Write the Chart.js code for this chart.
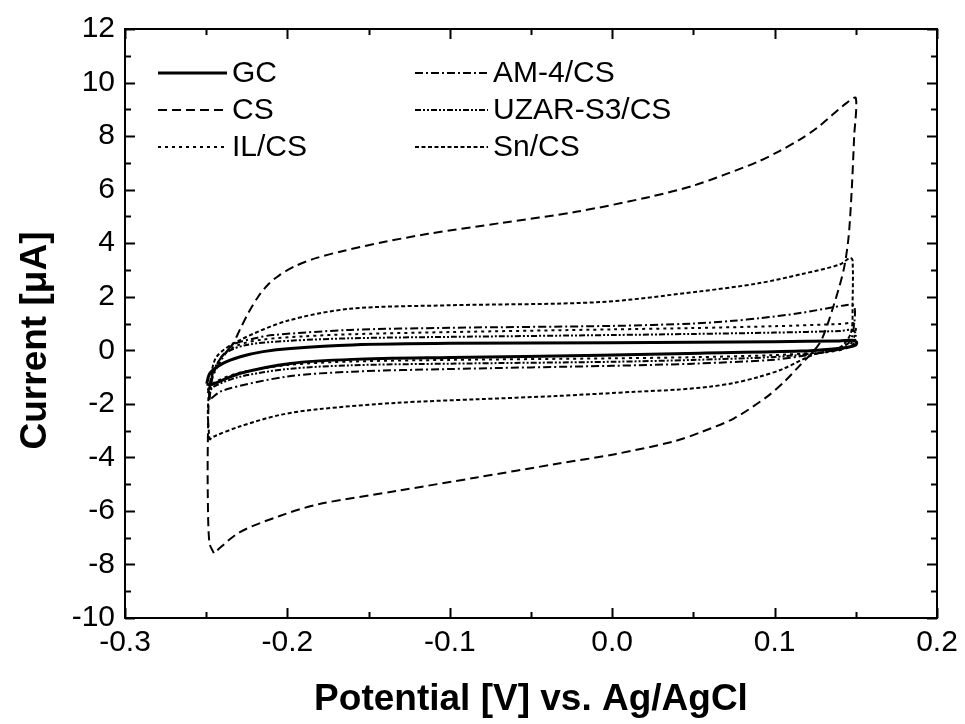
<!DOCTYPE html>
<html>
<head>
<meta charset="utf-8">
<script src="https://cdn.jsdelivr.net/npm/chart.js@4.4.1/dist/chart.umd.min.js"></script>
<style>
  html, body { margin: 0; padding: 0; background: #ffffff; }
  #wrap { width: 965px; height: 724px; }
</style>
</head>
<body>
<div id="wrap"><canvas id="c" width="965" height="724"></canvas></div>
<script>
// ---- data (potential V vs Ag/AgCl, current µA), each a closed CV loop ----
const seriesLabels = ["GC", "CS", "IL/CS", "AM-4/CS", "UZAR-S3/CS", "Sn/CS"];

const gcV = [-0.2497,-0.2477,-0.240,-0.229,-0.215,-0.198,-0.160,-0.100,0.000,0.050,0.100,0.140,0.148,0.1505,0.150,0.146,0.136,0.116,0.054,-0.007,-0.100,-0.160,-0.198,-0.229,-0.2477,-0.2497];
const gcI = [-1.25,-0.86,-0.50,-0.24,-0.05,0.07,0.20,0.26,0.28,0.30,0.32,0.35,0.37,0.30,0.20,0.12,0.05,-0.03,-0.11,-0.19,-0.27,-0.34,-0.49,-0.86,-1.30,-1.25];

const csV = [-0.2453,-0.248,-0.249,-0.249,-0.248,-0.245,-0.240,-0.234,-0.229,-0.224,-0.218,-0.212,-0.205,-0.195,-0.182,-0.165,-0.140,-0.1134,-0.0679,-0.0223,0.0233,0.050,0.0688,0.090,0.1033,0.115,0.126,0.1446,0.150,0.149,0.1475,0.1455,0.1425,0.136,0.129,0.1236,0.115,0.1064,0.095,0.0748,0.055,0.0382,0.0017,-0.0348,-0.0834,-0.1321,-0.1808,-0.2052,-0.2295,-0.2453];
const csI = [-7.58,-7.20,-5.50,-3.50,-1.50,-0.80,-0.20,0.20,0.80,1.40,2.00,2.45,2.80,3.15,3.45,3.72,4.05,4.35,4.76,5.17,5.73,6.15,6.55,7.05,7.45,7.85,8.30,9.25,9.42,8.00,6.00,4.20,3.00,1.60,0.40,-0.06,-0.60,-1.15,-1.75,-2.55,-3.05,-3.40,-3.88,-4.25,-4.75,-5.25,-5.75,-6.20,-6.80,-7.58];

const ilV = [-0.249,-0.246,-0.240,-0.230,-0.215,-0.190,-0.160,-0.100,0.000,0.050,0.100,0.140,0.148,0.150,0.149,0.145,0.135,0.1236,0.100,0.050,0.000,-0.100,-0.160,-0.200,-0.230,-0.245,-0.249];
const ilI = [-1.50,-0.90,-0.20,0.20,0.40,0.52,0.60,0.68,0.78,0.83,0.90,0.98,1.02,0.90,0.50,0.10,-0.05,-0.10,-0.18,-0.26,-0.30,-0.36,-0.42,-0.55,-0.85,-1.20,-1.50];

const amV = [-0.248,-0.246,-0.240,-0.2335,-0.220,-0.2088,-0.1615,-0.100,0.000,0.050,0.0745,0.091,0.1157,0.1446,0.149,0.149,0.146,0.135,0.1236,0.100,0.050,0.000,-0.100,-0.160,-0.200,-0.2397,-0.248];
const amI = [-1.85,-1.00,-0.30,0.20,0.45,0.57,0.76,0.84,0.91,1.00,1.10,1.20,1.39,1.69,1.65,1.00,0.30,0.00,-0.15,-0.35,-0.50,-0.58,-0.70,-0.80,-0.98,-1.50,-1.85];

const uzV = [-0.249,-0.245,-0.238,-0.225,-0.200,-0.160,-0.100,0.000,0.050,0.100,0.140,0.148,0.150,0.148,0.138,0.1236,0.100,0.050,0.000,-0.100,-0.160,-0.200,-0.230,-0.245,-0.249];
const uzI = [-1.60,-0.70,-0.10,0.20,0.35,0.45,0.50,0.57,0.61,0.66,0.72,0.76,0.60,0.20,0.00,-0.12,-0.25,-0.36,-0.43,-0.50,-0.56,-0.70,-1.00,-1.35,-1.60];

const snV = [-0.248,-0.249,-0.2475,-0.2436,-0.2292,-0.200,-0.1615,-0.100,-0.0075,0.054,0.090,0.117,0.140,0.1465,0.148,0.148,0.147,0.140,0.1236,0.105,0.090,0.075,0.060,0.040,0.014,-0.035,-0.083,-0.132,-0.181,-0.205,-0.2295,-0.2456,-0.248];
const snI = [-3.35,-2.30,-1.20,-0.24,0.38,1.10,1.55,1.68,1.80,2.20,2.50,2.85,3.20,3.45,3.37,1.77,0.65,0.10,-0.17,-0.70,-1.00,-1.22,-1.36,-1.47,-1.55,-1.71,-1.83,-1.96,-2.20,-2.42,-2.85,-3.23,-3.35];

const xTickValues = [-0.3, -0.2, -0.1, 0.0, 0.1, 0.2];
const xMinorValues = [-0.25, -0.15, -0.05, 0.05, 0.15];
const yTickValues = [-10, -8, -6, -4, -2, 0, 2, 4, 6, 8, 10, 12];
const yMinorValues = [-9, -7, -5, -3, -1, 1, 3, 5, 7, 9, 11];

// ---- build datasets ----
function pts(vs, is) { return vs.map((v, k) => ({ x: v, y: is[k] })); }
const styles = [
  { w: 3.0, dash: [] },
  { w: 2.0, dash: [9, 5] },
  { w: 2.0, dash: [3, 4] },
  { w: 2.0, dash: [8, 3, 2, 3] },
  { w: 2.0, dash: [6, 2, 2, 2, 2, 2] },
  { w: 2.0, dash: [4, 2.5] }
];
const seriesData = [pts(gcV, gcI), pts(csV, csI), pts(ilV, ilI), pts(amV, amI), pts(uzV, uzI), pts(snV, snI)];
const datasets = seriesData.map((d, k) => ({
  label: seriesLabels[k],
  data: d,
  showLine: true,
  fill: false,
  borderColor: '#000000',
  backgroundColor: '#000000',
  borderWidth: styles[k].w,
  borderDash: styles[k].dash,
  pointRadius: 0,
  pointHoverRadius: 0,
  tension: 0.3,
  borderJoinStyle: 'round'
}));

const FONT = "'Liberation Sans', Arial, Helvetica, sans-serif";

const framePlugin = {
  id: 'frameTicks',
  afterDraw(chart) {
    const ctx = chart.ctx;
    const a = chart.chartArea;
    const xs = chart.scales.x, ys = chart.scales.y;
    ctx.save();
    ctx.strokeStyle = '#000';
    ctx.lineWidth = 2;
    ctx.setLineDash([]);
    ctx.strokeRect(a.left, a.top, a.right - a.left, a.bottom - a.top);
    const major = 10, minor = 6;
    ctx.beginPath();
    const xt = (vals, len) => vals.forEach(v => {
      const p = Math.round(xs.getPixelForValue(v)) + 0.5;
      ctx.moveTo(p, a.bottom); ctx.lineTo(p, a.bottom - len);
      ctx.moveTo(p, a.top); ctx.lineTo(p, a.top + len);
    });
    const yt = (vals, len) => vals.forEach(v => {
      const p = Math.round(ys.getPixelForValue(v)) + 0.5;
      ctx.moveTo(a.left, p); ctx.lineTo(a.left + len, p);
      ctx.moveTo(a.right, p); ctx.lineTo(a.right - len, p);
    });
    xt(xTickValues, major); xt(xMinorValues, minor);
    yt(yTickValues, major); yt(yMinorValues, minor);
    ctx.stroke();

    // y-axis title, centred a little below the plot middle as in the original
    ctx.save();
    ctx.translate(36, (a.top + a.bottom) / 2 + 17);
    ctx.rotate(-Math.PI / 2);
    ctx.font = "bold 37px " + FONT;
    ctx.textAlign = 'center';
    ctx.textBaseline = 'middle';
    ctx.fillStyle = '#000';
    ctx.fillText('Current [μA]', 0, 0);
    ctx.restore();

    // legend (two columns inside the plot)
    ctx.font = "30px " + FONT;
    ctx.fillStyle = '#000';
    ctx.textBaseline = 'middle';
    ctx.textAlign = 'left';
    chart.data.datasets.forEach((ds, n) => {
      const col = n < 3 ? 0 : 1;
      const row = n % 3;
      const x0 = col === 0 ? 158 : 415;
      const x1 = col === 0 ? 227 : 488;
      const tx = col === 0 ? 232 : 493;
      const y = 73 + row * 37;
      ctx.lineWidth = ds.borderWidth;
      ctx.setLineDash(ds.borderDash);
      ctx.beginPath();
      ctx.moveTo(x0, y); ctx.lineTo(x1, y);
      ctx.stroke();
      ctx.setLineDash([]);
      ctx.fillText(ds.label, tx, y + 1);
    });
    ctx.restore();
  }
};

new Chart(document.getElementById('c'), {
  type: 'scatter',
  data: { datasets },
  options: {
    responsive: false,
    animation: false,
    devicePixelRatio: 1,
    layout: { padding: { top: 29, right: 28, left: 0, bottom: 0 } },
    plugins: { legend: { display: false }, tooltip: { enabled: false } },
    scales: {
      x: {
        type: 'linear',
        min: -0.3, max: 0.2,
        afterBuildTicks(scale) { scale.ticks = xTickValues.map(v => ({ value: v })); },
        afterFit(scale) { scale.height = 106; },
        grid: { display: false, drawTicks: false },
        border: { display: false },
        ticks: {
          color: '#000',
          font: { family: FONT, size: 30 },
          padding: 7,
          maxRotation: 0,
          autoSkip: false,
          callback: v => (Math.abs(v) < 1e-9 ? '0.0' : Number(v).toFixed(1))
        },
        title: {
          display: true,
          text: 'Potential [V] vs. Ag/AgCl',
          color: '#000',
          font: { family: FONT, size: 37, weight: 'bold' },
          padding: { top: 0, bottom: 2 }
        }
      },
      y: {
        type: 'linear',
        min: -10, max: 12,
        afterBuildTicks(scale) { scale.ticks = yTickValues.map(v => ({ value: v })); },
        afterFit(scale) { scale.width = 125; },
        grid: { display: false, drawTicks: false },
        border: { display: false },
        ticks: {
          color: '#000',
          font: { family: FONT, size: 30 },
          padding: 10,
          autoSkip: false,
          callback: v => String(v)
        },
        title: { display: false }
      }
    }
  },
  plugins: [framePlugin]
});
</script>
</body>
</html>
